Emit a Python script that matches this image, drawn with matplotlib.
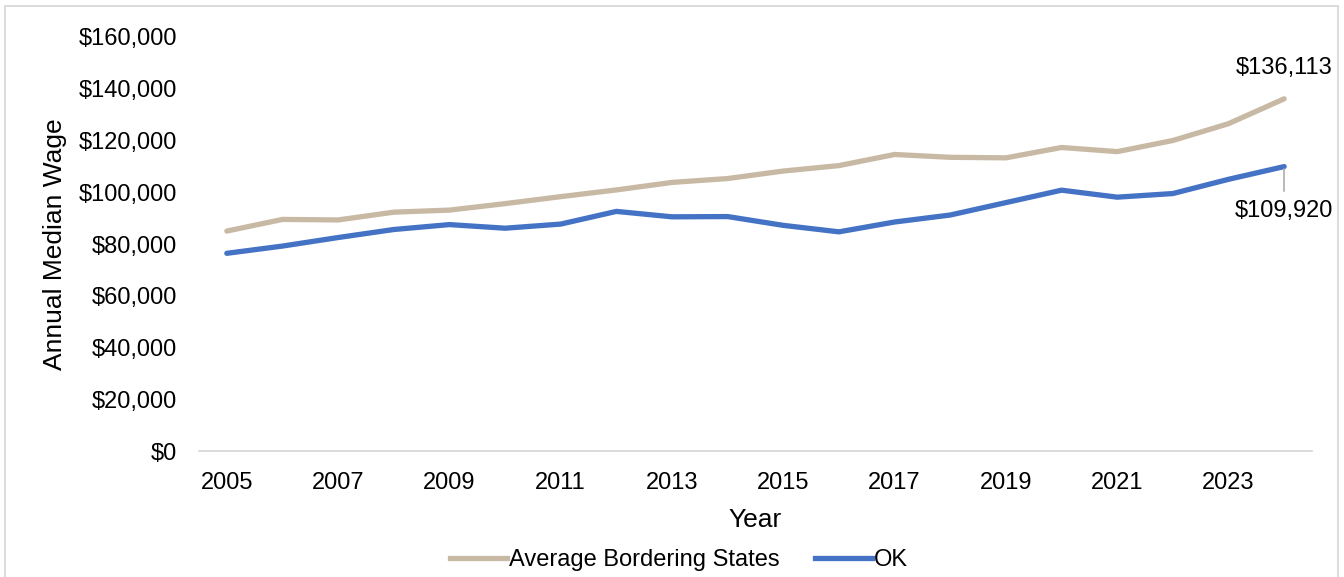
import matplotlib
matplotlib.use("Agg")
import matplotlib.pyplot as plt
from matplotlib.patches import Rectangle
from matplotlib.lines import Line2D
from matplotlib.ticker import FuncFormatter

plt.rcParams["font.family"] = ["Liberation Sans", "DejaVu Sans"]

years = list(range(2005, 2025))
bordering = [85000, 89500, 89300, 92300, 93100, 95600, 98300, 100900, 103800, 105300,
             108200, 110300, 114600, 113500, 113300, 117300, 115700, 120000, 126500, 136113]
oklahoma = [76400, 79200, 82500, 85600, 87500, 86100, 87700, 92600, 90500, 90600,
            87200, 84700, 88500, 91200, 96000, 100800, 98100, 99500, 105000, 109920]
series_names = ["Average Bordering States", "OK"]
colors = ["#C8B9A4", "#4472C4"]

W, H = 1344, 577
fig = plt.figure(figsize=(W / 100, H / 100), dpi=100)
ax = fig.add_axes([199 / W, 1 - 451 / H, (1312 - 199) / W, (451 - 37) / H])

x = list(range(len(years)))
ax.plot(x, bordering, color=colors[0], lw=3.8, solid_capstyle="round", solid_joinstyle="round")
ax.plot(x, oklahoma, color=colors[1], lw=3.8, solid_capstyle="round", solid_joinstyle="round")

ax.set_xlim(-0.5, len(years) - 0.5)
ax.set_ylim(0, 160000)
ax.set_yticks(range(0, 160001, 20000))
ax.yaxis.set_major_formatter(FuncFormatter(lambda v, p: f"${v:,.0f}"))
ax.set_xticks(x[::2])
ax.set_xticklabels([str(y) for y in years[::2]])

for s in ["top", "right", "left"]:
    ax.spines[s].set_visible(False)
ax.spines["bottom"].set_color("#D9D9D9")
ax.spines["bottom"].set_linewidth(1.3)
ax.tick_params(axis="both", length=0, labelsize=17, colors="#000000")
ax.tick_params(axis="y", pad=16)
ax.tick_params(axis="x", pad=15)

ax.set_xlabel("Year", fontsize=19, labelpad=10)
ax.set_ylabel("Annual Median Wage", fontsize=19, labelpad=8)

# end-point value labels
last = len(years) - 1
ax.annotate(f"${bordering[-1]:,.0f}", xy=(last, bordering[-1]), xytext=(0, 22),
            textcoords="offset points", ha="center", va="center", fontsize=17)
ax.annotate(f"${oklahoma[-1]:,.0f}", xy=(last, oklahoma[-1]), xytext=(0, -32),
            textcoords="offset points", ha="center", va="center", fontsize=17)
ax.plot([last, last], [oklahoma[-1] - 1000, oklahoma[-1] - 9500], color="#A6A6A6", lw=1.1)

# legend
handles = [Line2D([0], [0], color=c, lw=3.8) for c in colors]
fig.legend(handles, series_names, loc="center", bbox_to_anchor=(679 / W, 1 - 560 / H),
           ncol=2, frameon=False, fontsize=17, handlelength=2.4, handletextpad=0.1,
           columnspacing=1.5)

# chart border
fig.patches.append(Rectangle((5 / W, -0.2), (1338 - 5) / W, 1 - 6 / H + 0.2,
                             transform=fig.transFigure, fill=False,
                             edgecolor="#D9D9D9", lw=1.3))

fig.savefig("out.png", dpi=100)
